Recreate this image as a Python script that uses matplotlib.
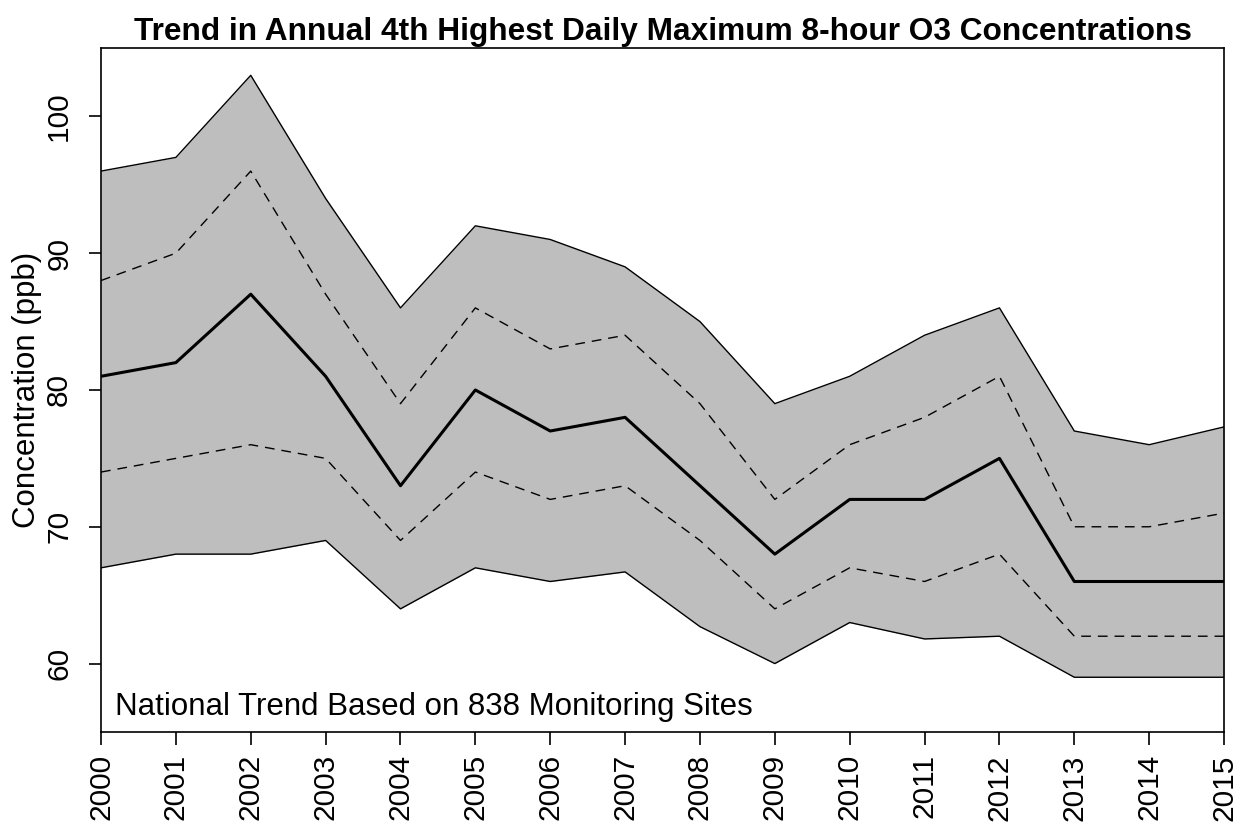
import numpy as np
import matplotlib
matplotlib.use("Agg")
import matplotlib.pyplot as plt

plt.rcParams["font.family"] = ["Liberation Sans", "DejaVu Sans"]

years = list(range(2000, 2016))

# 90th percentile / 10th percentile envelope (solid edges of grey band)
upper = [96, 97, 103, 94, 86, 92, 91, 89, 85, 79, 81, 84, 86, 77, 76, 77.3]
lower = [67, 68, 68, 69, 64, 67, 66, 66.7, 62.7, 60, 63, 61.8, 62, 59, 59, 59]

# 75th / 25th percentile (dashed)
upper_q = [88, 90, 96, 87, 79, 86, 83, 84, 79, 72, 76, 78, 81, 70, 70, 71]
lower_q = [74, 75, 76, 75, 69, 74, 72, 73, 69, 64, 67, 66, 68, 62, 62, 62]

# median (thick)
median = [81, 82, 87, 81, 73, 80, 77, 78, 73, 68, 72, 72, 75, 66, 66, 66]

yticks = [60, 70, 80, 90, 100]

fig = plt.figure(figsize=(12.47, 8.27), dpi=100)
ax = fig.add_axes([0.081, 0.1149, 0.9006, 0.8271])

ax.fill_between(years, lower, upper, color="#bebebe", linewidth=0)
ax.plot(years, upper, color="black", linewidth=1.0)
ax.plot(years, lower, color="black", linewidth=1.0)
ax.plot(years, upper_q, color="black", linewidth=1.0, linestyle=(0, (7, 5)))
ax.plot(years, lower_q, color="black", linewidth=1.0, linestyle=(0, (7, 5)))
ax.plot(years, median, color="black", linewidth=2.2)

ax.set_xlim(2000, 2015)
ax.set_ylim(55, 105)
ax.set_xticks(years)
ax.set_xticklabels([str(y) for y in years], rotation=90, fontsize=21.5)
ax.set_yticks(yticks)
ax.set_yticklabels([str(v) for v in yticks], rotation=90, va="center", fontsize=21.5)
ax.tick_params(axis="both", direction="out", length=9, width=1.2, color="black")
ax.tick_params(axis="x", pad=7)
ax.tick_params(axis="y", pad=11)
for s in ax.spines.values():
    s.set_linewidth(1.2)

ax.set_ylabel("Concentration (ppb)", fontsize=22.5, va="center")
ax.yaxis.set_label_coords(-0.066, 0.5)
ax.set_title("Trend in Annual 4th Highest Daily Maximum 8-hour O3 Concentrations",
             fontsize=22.8, fontweight="bold", pad=6)

ax.text(0.0125, 0.025, "National Trend Based on 838 Monitoring Sites",
        transform=ax.transAxes, fontsize=22.5, va="baseline", ha="left")

fig.savefig("out.png", dpi=100)
